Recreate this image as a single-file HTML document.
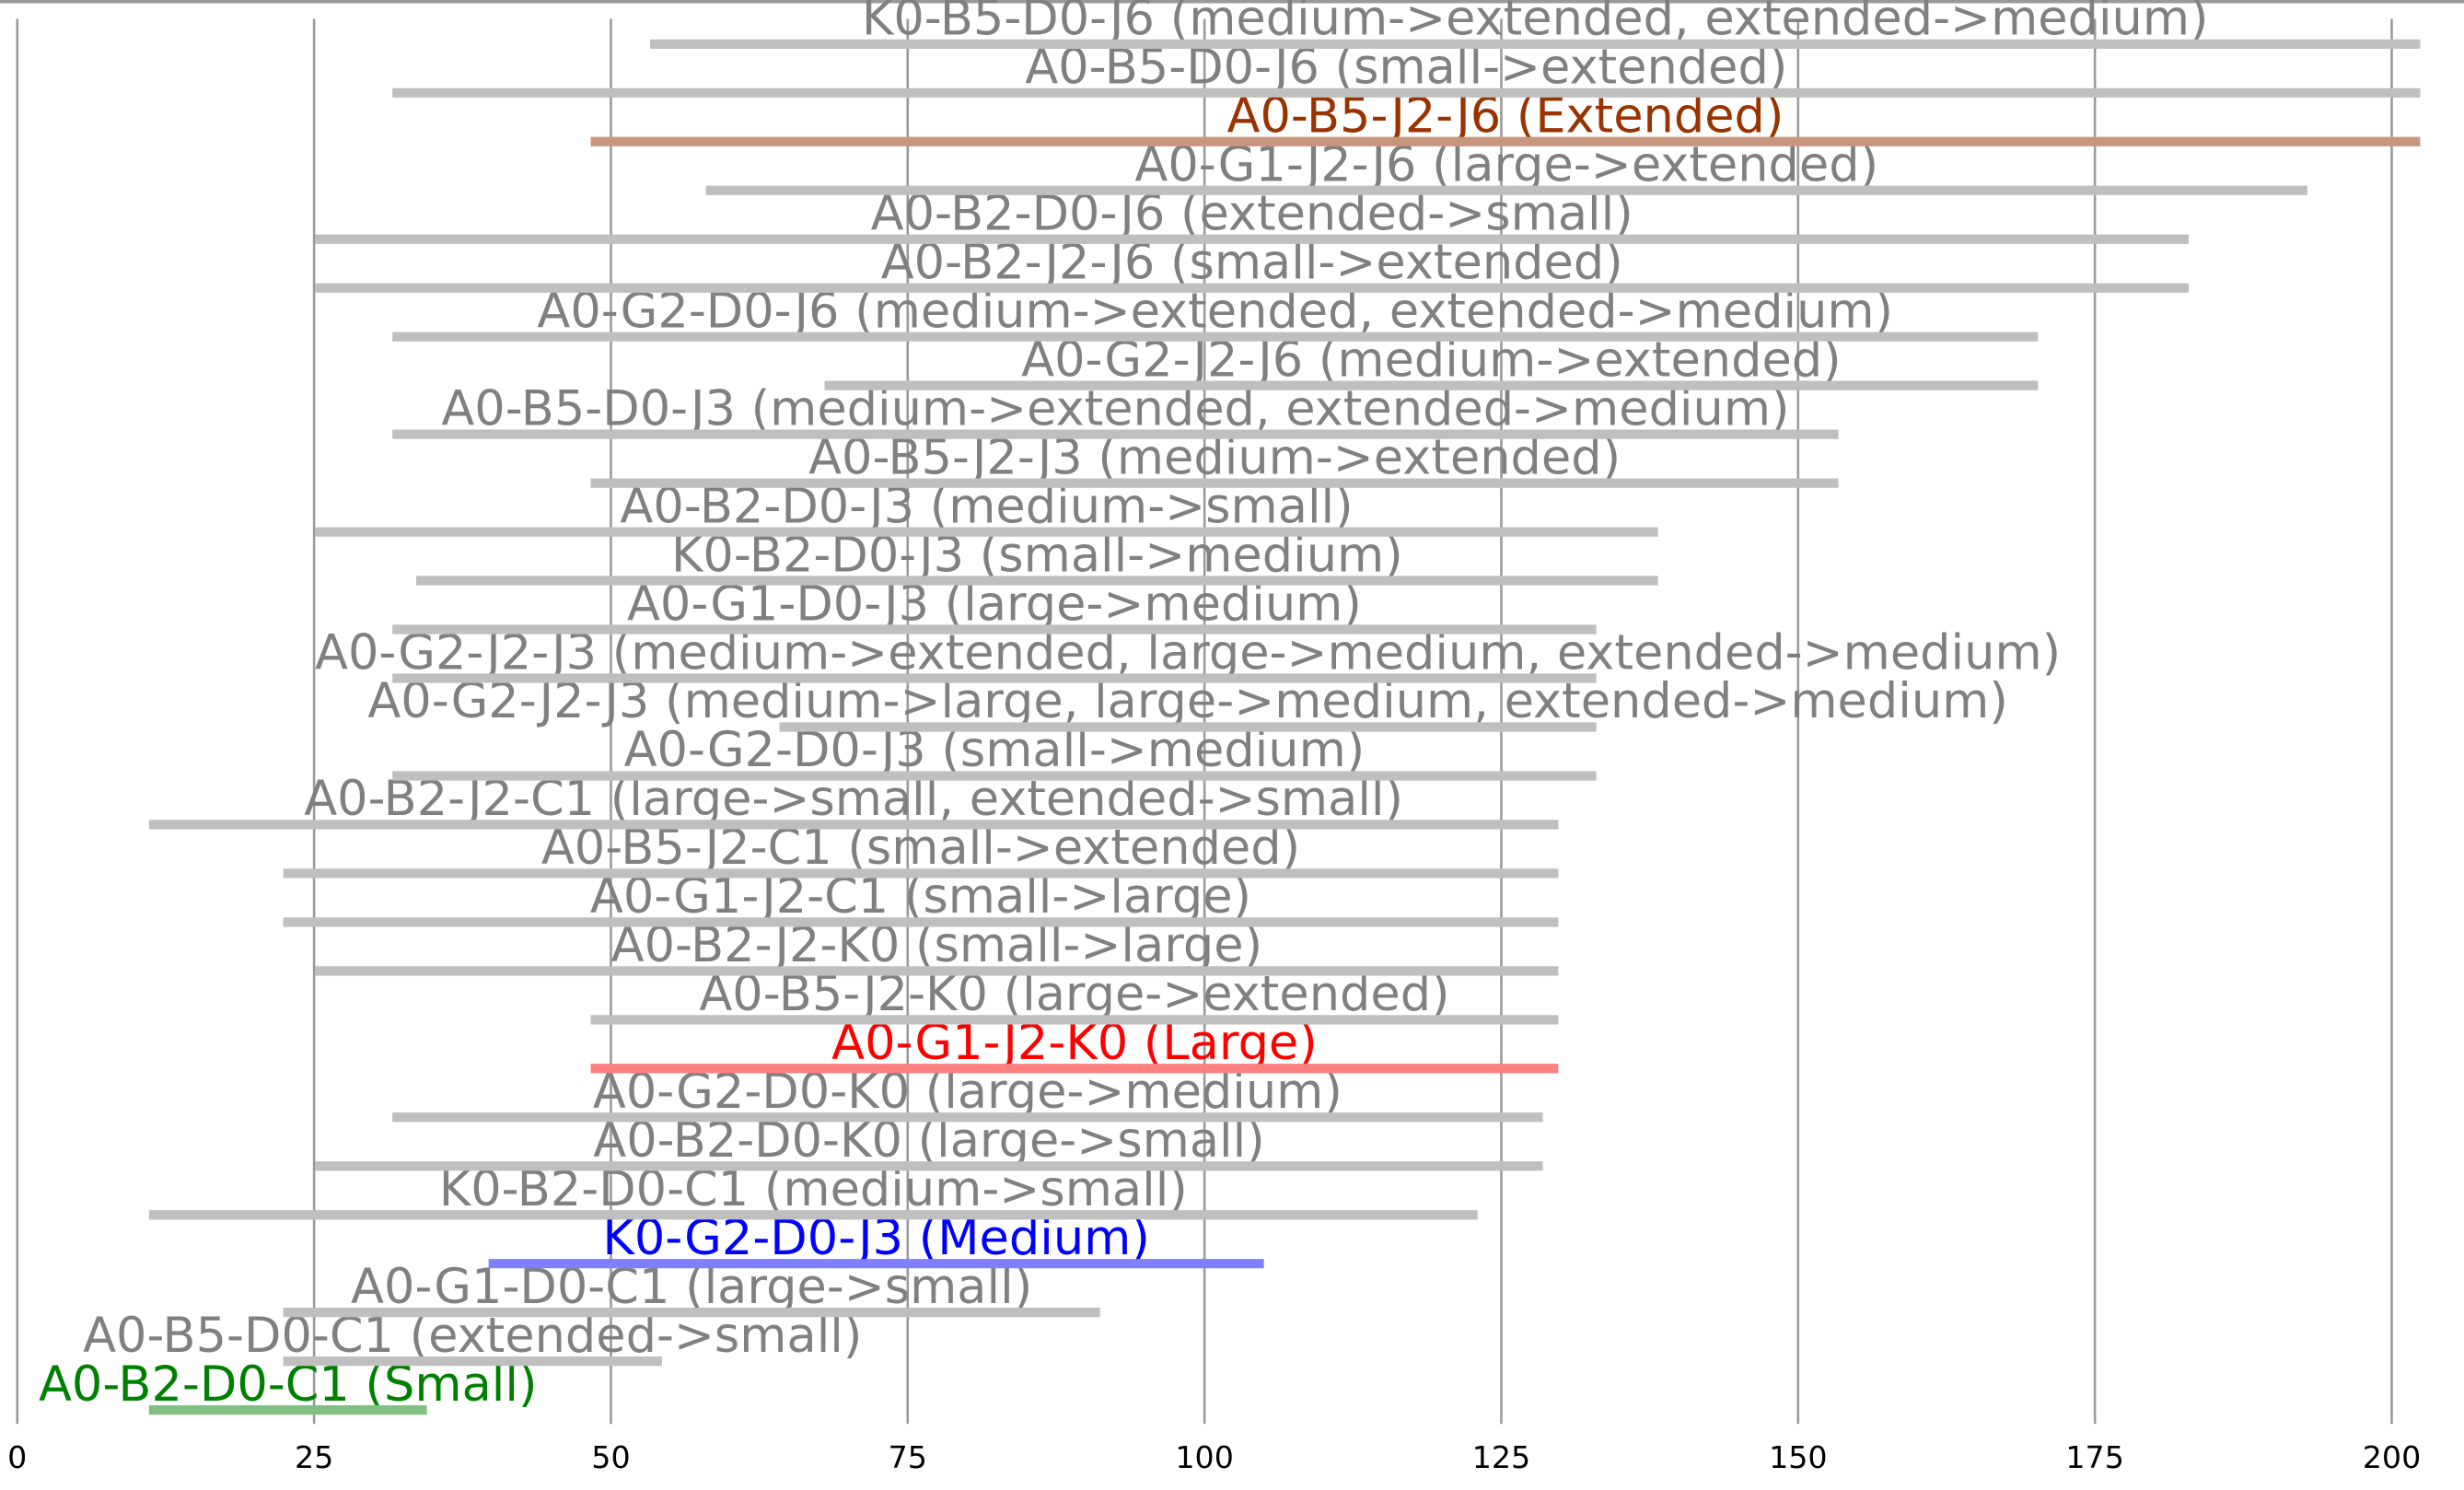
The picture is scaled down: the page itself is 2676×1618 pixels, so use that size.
<!DOCTYPE html>
<html><head><meta charset="utf-8"><style>html,body{margin:0;padding:0;background:#fff}svg{display:block}</style></head>
<body>
<svg id="chart" width="2676" height="1618" viewBox="0 0 1568 948" xmlns="http://www.w3.org/2000/svg" font-family="DejaVu Sans, Liberation Sans, sans-serif">
<line x1="0" y1="1" x2="1568" y2="1" stroke="#999" stroke-width="2"/>
<g id="grid"></g><g id="labels"></g><g id="bars"></g><g id="ticks"></g>
</svg>
<script>
const labels=["K0-B5-D0-J6 (medium->extended, extended->medium)","A0-B5-D0-J6 (small->extended)","A0-B5-J2-J6 (Extended)","A0-G1-J2-J6 (large->extended)","A0-B2-D0-J6 (extended->small)","A0-B2-J2-J6 (small->extended)","A0-G2-D0-J6 (medium->extended, extended->medium)","A0-G2-J2-J6 (medium->extended)","A0-B5-D0-J3 (medium->extended, extended->medium)","A0-B5-J2-J3 (medium->extended)","A0-B2-D0-J3 (medium->small)","K0-B2-D0-J3 (small->medium)","A0-G1-D0-J3 (large->medium)","A0-G2-J2-J3 (medium->extended, large->medium, extended->medium)","A0-G2-J2-J3 (medium->large, large->medium, extended->medium)","A0-G2-D0-J3 (small->medium)","A0-B2-J2-C1 (large->small, extended->small)","A0-B5-J2-C1 (small->extended)","A0-G1-J2-C1 (small->large)","A0-B2-J2-K0 (small->large)","A0-B5-J2-K0 (large->extended)","A0-G1-J2-K0 (Large)","A0-G2-D0-K0 (large->medium)","A0-B2-D0-K0 (large->small)","K0-B2-D0-C1 (medium->small)","K0-G2-D0-J3 (Medium)","A0-G1-D0-C1 (large->small)","A0-B5-D0-C1 (extended->small)","A0-B2-D0-C1 (Small)"];
const starts=[53.3,31.6,48.3,58,25.1,25.1,31.6,68,31.6,48.3,25.1,33.6,31.6,31.6,64.2,31.6,11.1,22.4,22.4,25.1,48.3,48.3,31.6,25.1,11.1,39.7,22.4,22.4,11.1];
const ends=[202.4,202.4,202.4,192.9,182.9,182.9,170.2,170.2,153.4,153.4,138.2,138.2,133,133,133,133,129.8,129.8,129.8,129.8,129.8,129.8,128.5,128.5,123,105,91.2,54.3,34.5];
const labelCenterOverride={13:98.6};
const highlight={2:["#993300","#c8967d"],21:["#ff0000","#ff8080"],25:["#0000ff","#8080ff"],28:["#008000","#80c080"]};
const tickVals=[0,25,50,75,100,125,150,175,200];
const NS="http://www.w3.org/2000/svg";
const x=v=>11+v*(1511/200);
const y=i=>28+i*31.04;
function mk(t,a,p){const e=document.createElementNS(NS,t);for(const k in a)e.setAttribute(k,a[k]);p.appendChild(e);return e;}
const grid=document.getElementById('grid'),bars=document.getElementById('bars'),lbls=document.getElementById('labels'),ticks=document.getElementById('ticks');
tickVals.forEach(v=>{
 const l=mk('line',{x1:x(v),x2:x(v),y1:12,y2:906,stroke:'#999','stroke-width':1.5},grid);
 
 
 const t=mk('text',{x:x(v),y:934,'font-size':19.5,'text-anchor':'middle',fill:'#000'},ticks);
 t.textContent=v;
 
 
});
labels.forEach((lab,i)=>{
 const h=highlight[i];
 const b=mk('line',{x1:x(starts[i]),x2:x(ends[i]),y1:y(i),y2:y(i),stroke:h?h[1]:'#bfbfbf','stroke-width':6},bars);
 
 
 const cx=(i in labelCenterOverride)?x(labelCenterOverride[i]):(x(starts[i])+x(ends[i]))/2;
 const t=mk('text',{x:cx,y:y(i)-6,'font-size':30.8,'text-anchor':'middle',fill:h?h[0]:'#808080'},lbls);
 t.textContent=lab;
 
 
});
</script>
</body></html>
